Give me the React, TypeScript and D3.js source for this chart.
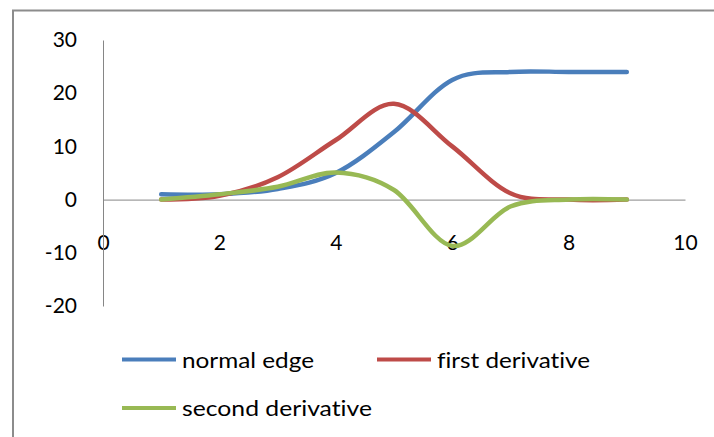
import { useRef, useEffect } from 'react';
import * as d3 from 'd3';

const xValues = [1, 2, 3, 4, 5, 6, 7, 8, 9];
const normalEdge = [1, 1, 2, 5, 12.7, 22.5, 24, 24, 24];
const firstDerivative = [0, 0.7, 4.2, 11.2, 18, 10, 1.2, 0, 0];
const secondDerivative = [0, 1, 2.4, 5.1, 1.8, -8.7, -1.3, 0, 0];

const xTicks = [0, 2, 4, 6, 8, 10];
const yTicks = [-20, -10, 0, 10, 20, 30];

const seriesNames = ['normal edge', 'first derivative', 'second derivative'];
const seriesColors = ['#4a7ebb', '#be4b48', '#98b954'];
// legend label widths as they appear in the picture (Calibri-like text)
const legendWidths = [132, 153, 190];

const FONT = 'Lato, "Open Sans", sans-serif';

const App = () => {
  const svgRef = useRef(null);

  useEffect(() => {
    if (!svgRef.current) return;
    const svg = d3.select(svgRef.current);
    svg.selectAll('*').remove();

    const width = 714;
    const height = 437;

    svg.append('rect')
      .attr('width', width)
      .attr('height', height)
      .attr('fill', '#fff');

    // chart area border (only left and top edges visible in the crop)
    svg.append('path')
      .attr('d', `M13,${height} L13,10.5 L${width},10.5`)
      .attr('fill', 'none')
      .attr('stroke', '#8c8c8c')
      .attr('stroke-width', 2);

    const x = d3.scaleLinear().domain([0, 10]).range([103, 685]);
    const y = d3.scaleLinear().domain([-20, 30]).range([306, 40]);

    const fmt = (d) => String(d);

    const xAxis = svg.append('g')
      .attr('transform', `translate(0,${y(0)})`)
      .call(d3.axisBottom(x).tickValues(xTicks).tickFormat(fmt).tickSize(0).tickPadding(35));

    const yAxis = svg.append('g')
      .attr('transform', `translate(${x(0)},0)`)
      .call(d3.axisLeft(y).tickValues(yTicks).tickFormat(fmt).tickSize(0).tickPadding(26));

    [xAxis, yAxis].forEach((g) => {
      g.select('.domain').attr('stroke', '#868686').attr('stroke-width', 1);
      g.selectAll('text')
        .attr('fill', '#000')
        .style('font-family', FONT)
        .style('font-size', '21px');
    });

    const line = d3.line<number>()
      .x((_, i) => x(xValues[i]))
      .y((d) => y(d))
      .curve(d3.curveCatmullRom.alpha(0));

    [normalEdge, firstDerivative, secondDerivative].forEach((values, i) => {
      svg.append('path')
        .datum(values)
        .attr('d', line)
        .attr('fill', 'none')
        .attr('stroke', seriesColors[i])
        .attr('stroke-width', 4.5)
        .attr('stroke-linecap', 'round')
        .attr('stroke-linejoin', 'round');
    });

    // legend
    const legendPos = [
      { lx: 122, ly: 359.5 },
      { lx: 377, ly: 359.5 },
      { lx: 122, ly: 408 },
    ];
    seriesNames.forEach((name, i) => {
      const { lx, ly } = legendPos[i];
      const item = svg.append('g').attr('transform', `translate(${lx},${ly})`);
      item.append('line')
        .attr('x1', 0)
        .attr('x2', 54)
        .attr('stroke', seriesColors[i])
        .attr('stroke-width', 4);
      item.append('text')
        .attr('x', 60)
        .attr('y', 8)
        .attr('textLength', legendWidths[i])
        .attr('lengthAdjust', 'spacingAndGlyphs')
        .style('font-family', FONT)
        .style('font-size', '21px')
        .style('font-variant-ligatures', 'none')
        .text(name);
    });
  }, []);

  return (
    <svg
      ref={svgRef}
      width={714}
      height={437}
      style={{ position: 'absolute', left: 0, top: 0, display: 'block' }}
    />
  );
};

export default App;
